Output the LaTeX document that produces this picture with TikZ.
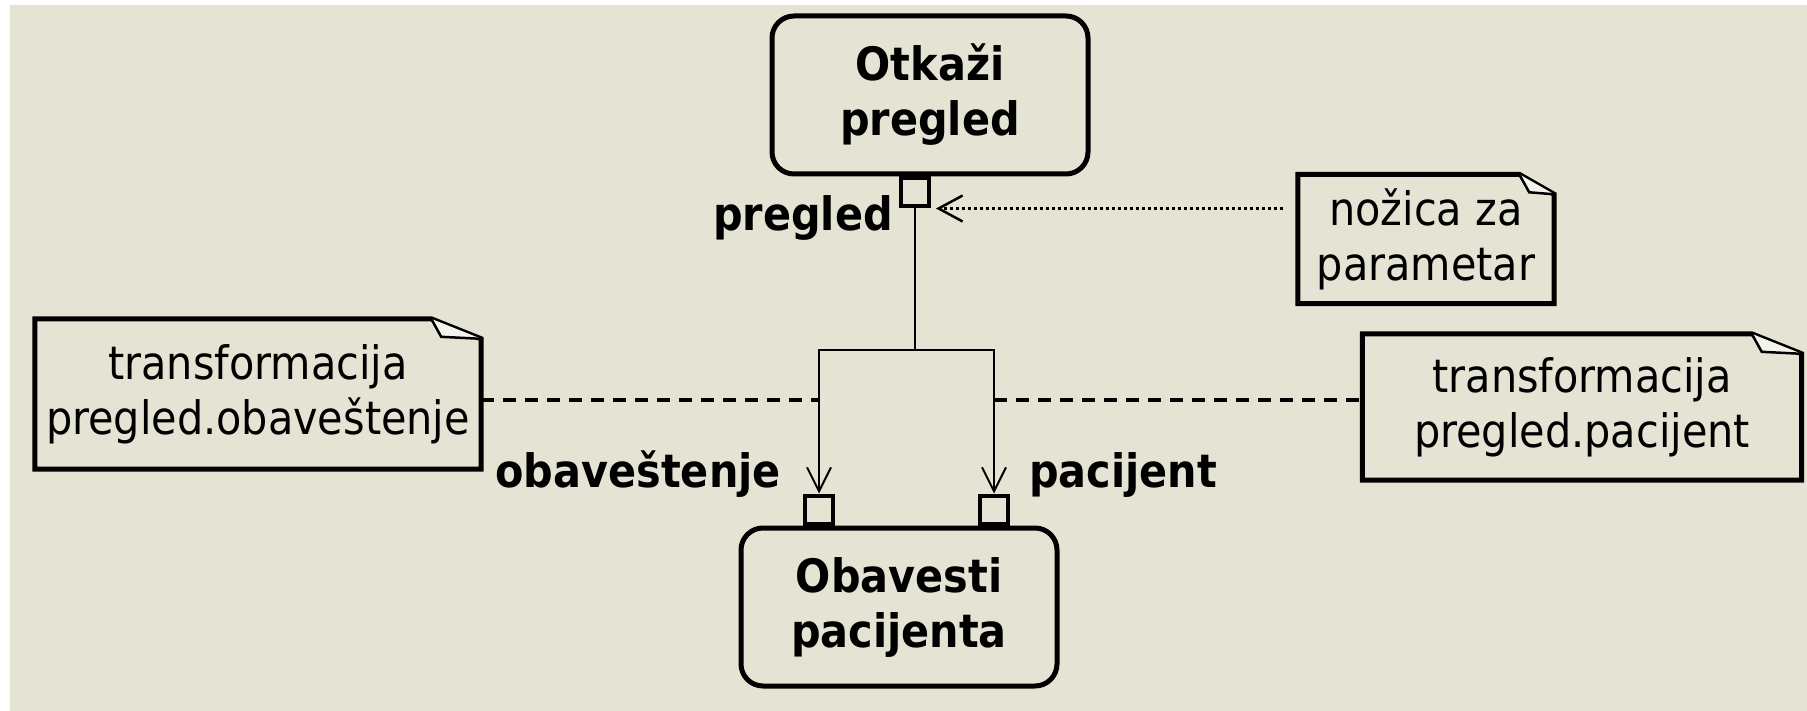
\documentclass[tikz,border=0pt]{standalone}
\usepackage{fontspec}
\setmainfont{DejaVu Sans Condensed}
\usepackage{xcolor}
\usepackage{tikz}
\usetikzlibrary{positioning}
\usetikzlibrary{arrows.meta}

\definecolor{slidebg}{RGB}{228,227,212}

% note outline with folded corner: #1 node name, #2 ear width
\newcommand{\noteframe}[2]{%
  \draw[noteedge] (#1.north west) -- ([xshift=-#2]#1.north east) -- ([yshift=-20pt]#1.north east)
    -- (#1.south east) -- (#1.south west) -- cycle;
  \draw[noteedge, line width=2.5pt, fill=white!60!slidebg] ([xshift=-#2]#1.north east)
    -- ([xshift=-#2+10pt, yshift=-18pt]#1.north east) -- ([yshift=-20pt]#1.north east);
}

\begin{document}
\begin{tikzpicture}[
  x=1pt, y=-1pt,
  font=\fontsize{46pt}{55pt}\selectfont
]
\tikzset{
    actbox/.style = {rectangle, rounded corners=22pt, draw=black, line width=5pt, align=center,
      font=\fontsize{46pt}{55pt}\selectfont\bfseries, minimum width=316pt, minimum height=158pt},
    pinbox/.style = {rectangle, draw=black, line width=4pt, minimum width=28pt, minimum height=28pt, inner sep=0pt},
    pinlabel/.style = {font=\fontsize{46pt}{55pt}\selectfont\bfseries, inner sep=0pt},
    notebox/.style = {align=center, inner sep=0pt},
    noteedge/.style = {draw=black, line width=5pt, line join=miter},
    flowline/.style = {draw=black, line width=2.5pt},
    flowarrow/.style = {flowline, -{Straight Barb[length=24pt, width=24pt, line width=2pt]}},
    noteline/.style = {draw=black, line width=4pt, dash pattern=on 13pt off 9pt},
    anchorline/.style = {draw=black, line width=3.5pt, dash pattern=on 3pt off 3pt,
      -{Straight Barb[length=24pt, width=26pt, line width=2.5pt]}}
}
\useasboundingbox (0,0) rectangle (1807,711);
\fill[white] (0,0) rectangle (1807,711);
\fill[slidebg] (10,5) rectangle (1807,711);

% actions and pins
\node[actbox] (otkazi) at (930,95) {Otkaži\\pregled};
\node[pinbox, anchor=north] (pinIn) at ([xshift=-15pt]otkazi.south) {};
\node[actbox] (obavesti) at (899,607) {Obavesti\\pacijenta};
\node[pinbox, anchor=south] (pinObav) at ([xshift=-80pt]obavesti.north) {};
\node[pinbox, anchor=south] (pinPac) at ([xshift=95pt]obavesti.north) {};

% pin names
\node[pinlabel, anchor=base east] (lblPregled) at ([xshift=-6pt, yshift=-22pt]pinIn.south west) {pregled};
\node[pinlabel, anchor=base east] (lblObav) at ([xshift=-22pt, yshift=6pt]pinObav.north west) {obaveštenje};
\node[pinlabel, anchor=base west] (lblPac) at ([xshift=19pt, yshift=6pt]pinPac.north east) {pacijent};

% notes
\node[notebox, minimum width=256pt, minimum height=129pt] (noteParam) at (1426,239) {nožica za\\parametar};
\node[notebox, minimum width=446pt, minimum height=150pt] (noteObav) at (258,394) {transformacija\\pregled.obaveštenje};
\node[notebox, minimum width=439pt, minimum height=146pt] (notePac) at (1582,407) {transformacija\\pregled.pacijent};
\noteframe{noteParam}{35pt}
\noteframe{noteObav}{50pt}
\noteframe{notePac}{50pt}

% object flow
\coordinate (split) at (915,350);
\draw[flowline] (pinIn.south) -- (split);
\draw[flowarrow] (split) -| (pinObav.north);
\draw[flowarrow] (split) -| (pinPac.north);

% note attachments
\coordinate (tapObav) at (818,400);
\coordinate (tapPac) at (994,400);
\draw[noteline] (noteObav.east |- tapObav) -- (tapObav);
\draw[noteline] (tapPac) -- (notePac.west |- tapPac);
\draw[anchorline, shorten <=15pt] (noteParam.west |- pinIn.south) -- ([xshift=5pt]pinIn.south east);
\end{tikzpicture}
\end{document}
